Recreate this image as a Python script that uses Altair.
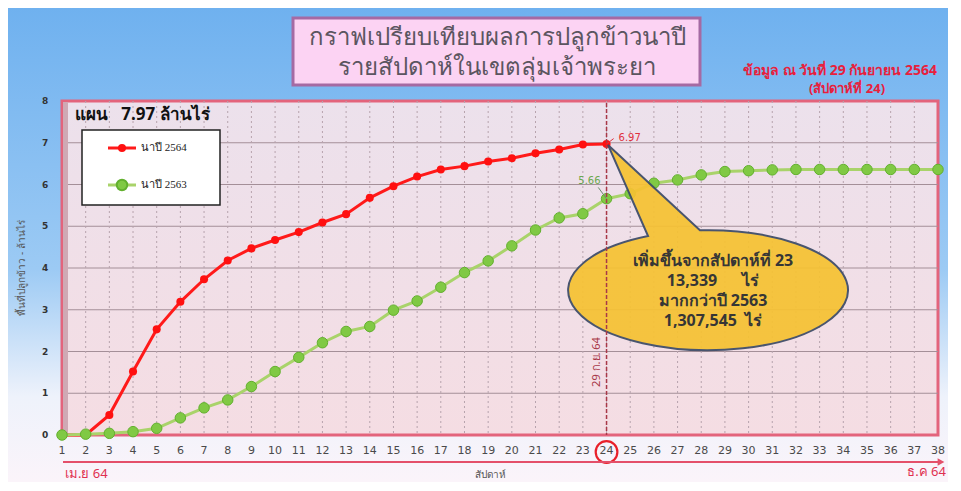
import altair as alt
import pandas as pd

# ---------------- data ----------------
weeks = list(range(1, 39))
rice_2564 = [0.0, 0.0, 0.48, 1.52, 2.53, 3.19, 3.73, 4.18, 4.47, 4.67, 4.86, 5.09,
             5.29, 5.68, 5.96, 6.19, 6.36, 6.44, 6.55, 6.63, 6.75, 6.84, 6.96, 6.97]
rice_2563 = [0.0, 0.02, 0.04, 0.08, 0.16, 0.41, 0.65, 0.84, 1.16, 1.52, 1.86, 2.21,
             2.48, 2.60, 2.99, 3.21, 3.54, 3.89, 4.17, 4.53, 4.91, 5.20, 5.30, 5.66,
             5.78, 6.03, 6.11, 6.23, 6.31, 6.33, 6.35, 6.36, 6.36, 6.36, 6.36, 6.36,
             6.36, 6.36]
series_names = ["นาปี 2564", "นาปี 2563"]
y_ticks = [0, 1, 2, 3, 4, 5, 6, 7, 8]
current_week = 24
NB = "\u00a0"
callout_lines = ["เพิ่มขึ้นจากสัปดาห์ที่ 23", "13,339" + NB * 6 + "ไร่",
                 "มากกว่าปี 2563", "1,307,545" + NB * 2 + "ไร่"]

rows = [{"week": w, "value": v, "series": series_names[0]} for w, v in zip(weeks, rice_2564)]
rows += [{"week": w, "value": v, "series": series_names[1]} for w, v in zip(weeks, rice_2563)]
df = pd.DataFrame(rows)
df64 = df[df.series == series_names[0]]
df63 = df[df.series == series_names[1]]

# ---------------- layout ----------------
W, H = 876, 334
PL, PT, PR, PB = 54, 93, 10, 47
FONT = "Noto Sans"
one = pd.DataFrame({"a": [0]})

xs = alt.Scale(domain=[1, 38], nice=False, zero=False)
ys = alt.Scale(domain=[0, 8], nice=False)


def X(field="week:Q"):
    return alt.X(field, scale=xs, axis=None)


def Y(field="value:Q"):
    return alt.Y(field, scale=ys, axis=None)


def box(x1, x2, y1, y2, **kw):
    return alt.Chart(one).mark_rect(**kw).encode(
        x=alt.value(x1), x2=alt.value(x2), y=alt.value(y1), y2=alt.value(y2))


def txt(text, x, y, font=FONT, **kw):
    return alt.Chart(one).mark_text(text=text, font=font, **kw).encode(
        x=alt.value(x), y=alt.value(y))


bg = box(-PL, W + PR, -PT, H + PB, fill=alt.Gradient(
    gradient="linear", x1=0, x2=0, y1=0, y2=1,
    stops=[alt.GradientStop(color="#6fb1ef", offset=0),
           alt.GradientStop(color="#9ccaf4", offset=0.55),
           alt.GradientStop(color="#eef2fb", offset=0.82),
           alt.GradientStop(color="#fbf4fa", offset=1)]))

plot_bg = box(0, W, 0, H, stroke="#e3647c", strokeWidth=3, fill=alt.Gradient(
    gradient="linear", x1=0, x2=0, y1=0, y2=1,
    stops=[alt.GradientStop(color="#ece1ec", offset=0),
           alt.GradientStop(color="#f5dde3", offset=1)]))
left_shade = box(1, 6, 1, H, fill="#cfa9b4")

hgrid = alt.Chart(pd.DataFrame({"value": y_ticks[1:-1]})).mark_rule(
    color="#a48f98", strokeWidth=1.2).encode(y=Y(), x=alt.value(6), x2=alt.value(W))
vgrid = alt.Chart(pd.DataFrame({"week": weeks[1:-1]})).mark_rule(
    color="#b7a3ad", strokeWidth=1, strokeDash=[2, 3]).encode(x=X(), y=alt.value(0), y2=alt.value(H))

# tick labels drawn from the tick arrays through the scales
xlabels = alt.Chart(pd.DataFrame({"week": weeks})).mark_text(
    font="DejaVu Sans", fontSize=11, color="#4a4a4a").encode(
    x=X(), y=alt.value(350), text="week:Q")
ylabels = alt.Chart(pd.DataFrame({"value": y_ticks})).mark_text(
    font="DejaVu Sans", fontSize=9, color="#333", fontWeight="bold").encode(
    y=Y(), x=alt.value(-17), text="value:Q")

red_line = alt.Chart(df64).mark_line(color="#ff1a1a", strokeWidth=3).encode(x=X(), y=Y())
red_pts = alt.Chart(df64).mark_point(filled=True, fill="#ff1010", size=65, opacity=1).encode(x=X(), y=Y())
green_line = alt.Chart(df63).mark_line(color="#a9d36a", strokeWidth=3).encode(x=X(), y=Y())
green_pts = alt.Chart(df63).mark_point(filled=True, fill="#80c944", stroke="#62b02e",
                                       strokeWidth=1, size=110, opacity=1).encode(x=X(), y=Y())

# callout (ellipse with pointer)
callout_path = "M -0.68 -0.967 L -0.413 -0.36 A 0.933 0.4 0 1 0 -0.067 -0.398 Z"
callout = alt.Chart(one).mark_point(shape=callout_path, filled=True, fill="#f6c233",
                                    stroke="#3d4b66", strokeWidth=2, size=90000, opacity=0.93).encode(
    x=alt.value(648), y=alt.value(189))

cur = pd.DataFrame({"week": [current_week]})
vline = alt.Chart(cur).mark_rule(color="#a83848", strokeWidth=1.5, strokeDash=[4, 2]).encode(
    x=X(), y=alt.value(2), y2=alt.value(H))
date_txt = alt.Chart(cur).mark_text(text="29 ก.ย. 64", angle=270, font=FONT, fontSize=11,
                                    color="#a83848", dy=-10).encode(x=X(), y=alt.value(261))

callout_txt = [txt(t, 651, y, fontSize=16, fontWeight="bold", color="#363636")
               for t, y in zip(callout_lines, [160, 180, 200, 220])]

# end-point value labels with short leader lines
v64 = rice_2564[current_week - 1]
v63 = rice_2563[current_week - 1]
lab64 = pd.DataFrame({"week": [current_week], "value": [v64],
                      "w2": [current_week + 0.3], "v2": [v64 + 0.13]})
lab63 = pd.DataFrame({"week": [current_week], "value": [v63],
                      "w2": [current_week - 0.35], "v2": [v63 + 0.27]})
lead64 = alt.Chart(lab64).mark_rule(color="#e0303e", strokeWidth=1).encode(
    x=X(), y=Y(), x2="w2:Q", y2="v2:Q")
lead63 = alt.Chart(lab63).mark_rule(color="#6a8a70", strokeWidth=1).encode(
    x=X(), y=Y(), x2="w2:Q", y2="v2:Q")
t64 = alt.Chart(lab64).mark_text(align="left", dx=12, dy=-6, fontSize=10, color="#e0303e",
                                 font="DejaVu Sans").encode(x=X(), y=Y(), text=alt.Text("value:Q", format=".2f"))
t63 = alt.Chart(lab63).mark_text(align="right", dx=-6, dy=-18, fontSize=10, color="#6ca850",
                                 font="DejaVu Sans").encode(x=X(), y=Y(), text=alt.Text("value:Q", format=".2f"))

# legend & plan text
plan = txt("แผน" + NB * 3 + "7.97 ล้านไร่", 13, 14, align="left", fontSize=17, fontWeight="bold", color="#111")
leg_box = box(20, 158, 29, 104, fill="white", stroke="#222", strokeWidth=1.5)
leg_r_line = alt.Chart(one).mark_rule(color="#ff1a1a", strokeWidth=3).encode(
    x=alt.value(46), x2=alt.value(74), y=alt.value(47))
leg_r_pt = alt.Chart(one).mark_point(filled=True, fill="#ff1010", size=65, opacity=1).encode(
    x=alt.value(60), y=alt.value(47))
leg_g_line = alt.Chart(one).mark_rule(color="#a9d36a", strokeWidth=3).encode(
    x=alt.value(46), x2=alt.value(74), y=alt.value(84))
leg_g_pt = alt.Chart(one).mark_point(filled=True, fill="#80c944", stroke="#62b02e", size=110, opacity=1).encode(
    x=alt.value(60), y=alt.value(84))
leg_r_txt = txt(series_names[0], 79, 47, align="left", fontSize=11, color="#222", font="Liberation Serif")
leg_g_txt = txt(series_names[1], 79, 84, align="left", fontSize=11, color="#222", font="Liberation Serif")

# title box
title_box = box(231, 638, -83, -16, fill="#fcd3f3", stroke="#a56aa3", strokeWidth=3)
title1 = txt("กราฟเปรียบเทียบผลการปลูกข้าวนาปี", 435, -63, fontSize=24, color="#5b5560")
title2 = txt("รายสัปดาห์ในเขตลุ่มเจ้าพระยา", 435, -33, fontSize=24, color="#5b5560")
sub1 = txt("ข้อมูล ณ วันที่ 29 กันยายน 2564", 778, -30, fontSize=14, fontWeight="bold", color="#e8203c")
sub2 = txt("(สัปดาห์ที่ 24)", 785, -12, fontSize=13, fontWeight="bold", color="#e8203c")

# axis decorations
circle24 = alt.Chart(cur).mark_point(shape="circle", filled=False, stroke="#e8202a", strokeWidth=2.2,
                                     size=470, opacity=1).encode(x=X(), y=alt.value(351))
arrow_line = alt.Chart(one).mark_rule(color="#e4506a", strokeWidth=2).encode(
    x=alt.value(1), x2=alt.value(878), y=alt.value(361))
arrow_head = alt.Chart(one).mark_point(shape="triangle-right", filled=True, fill="#e4506a",
                                       size=60, opacity=1).encode(x=alt.value(879), y=alt.value(361))
apr = txt("เม.ย 64", 3, 373, align="left", fontSize=13, color="#e03050")
dec = txt("ธ.ค 64", 884, 371, align="right", fontSize=13, color="#e03050")
xtitle = txt("สัปดาห์", 428, 374, fontSize=10, color="#555")
ytitle = alt.Chart(one).mark_text(text="พื้นที่ปลูกข้าว - ล้านไร่", angle=270, font=FONT,
                                  fontSize=10, color="#555").encode(x=alt.value(-40), y=alt.value(167))

chart = alt.layer(
    bg, plot_bg, left_shade, hgrid, vgrid,
    red_line, red_pts, green_line, green_pts,
    callout, vline, *callout_txt, date_txt, lead64, lead63, t64, t63,
    plan, leg_box, leg_r_line, leg_r_pt, leg_g_line, leg_g_pt, leg_r_txt, leg_g_txt,
    title_box, title1, title2, sub1, sub2,
    xlabels, ylabels,
    circle24, arrow_line, arrow_head, apr, dec, xtitle, ytitle,
).properties(
    width=W, height=H,
    padding={"left": PL, "top": PT, "right": PR, "bottom": PB},
    autosize=alt.AutoSizeParams(type="none"),
).configure_view(stroke=None)

chart.save("out.html", embed_options={"renderer": "svg", "actions": False})
